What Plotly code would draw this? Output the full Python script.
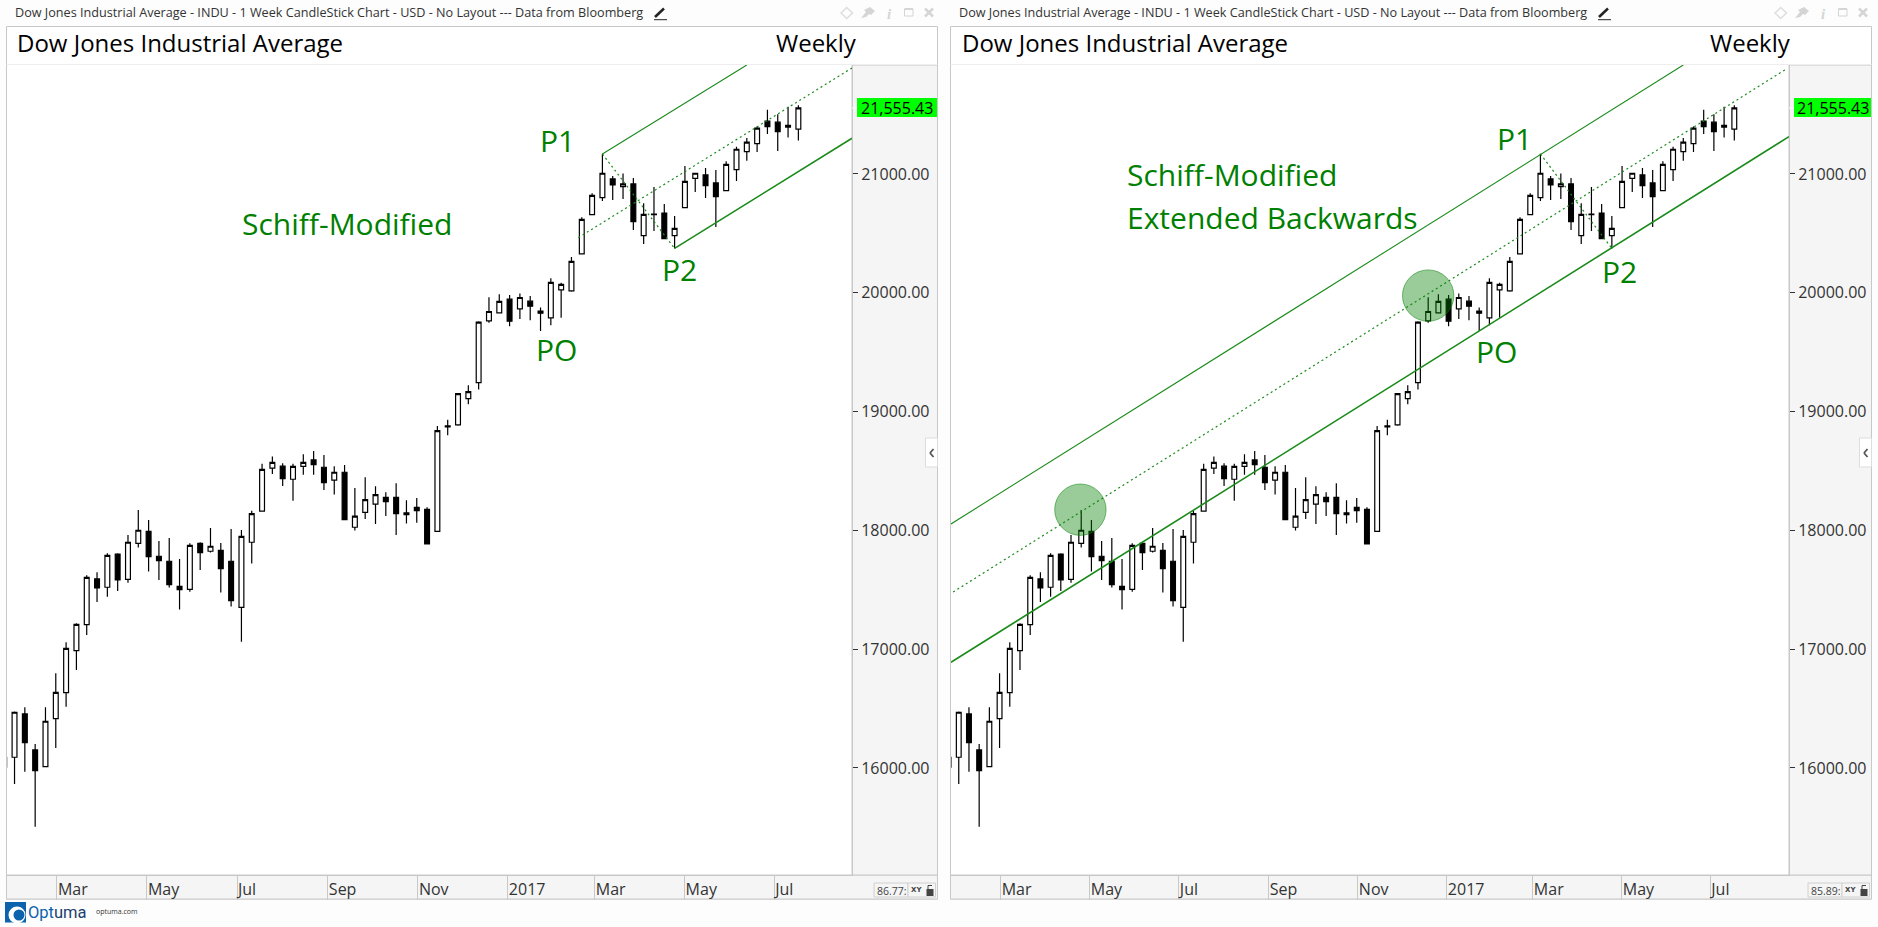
import plotly.graph_objects as go

WIDTH = 1878
HEIGHT = 927

# --- weekly bars ---
weeks = list(range(78))
opens = [16006, 16090, 16455, 16152, 16011, 16415, 16634, 16988, 17207, 17591,
         17521, 17801, 17588, 17891, 17992, 17782, 17740, 17529, 17504, 17891,
         17824, 17832, 17740, 17352, 17900, 18161, 18523, 18540, 18430, 18539,
         18593, 18531, 18422, 18489, 18026, 18152, 18220, 18278, 18278, 18147,
         18194, 18177, 17992, 18870, 18887, 19109, 19244, 19764, 19831, 19946,
         19865, 19929, 19845, 19789, 20025, 20016, 20328, 20657, 20800, 20958,
         20893, 20916, 20480, 20657, 20671, 20480, 20716, 20963, 20992, 20924,
         20860, 21037, 21188, 21256, 21444, 21436, 21393, 21377]
highs = [16100, 16475, 16511, 16202, 16511, 16797, 17058, 17218, 17622, 17647,
         17807, 17807, 17961, 18172, 18088, 17911, 17936, 17759, 17891, 17900,
         18020, 17894, 18012, 18003, 18166, 18560, 18621, 18565, 18560, 18640,
         18667, 18635, 18539, 18551, 18357, 18447, 18371, 18320, 18396, 18253,
         18273, 18194, 18879, 18932, 19156, 19221, 19761, 19963, 19988, 19980,
         19994, 19972, 19876, 20123, 20084, 20300, 20635, 20837, 21169, 20983,
         21003, 20966, 20753, 20890, 20747, 20646, 21067, 21006, 21051, 21034,
         21107, 21228, 21303, 21399, 21540, 21503, 21565, 21579]
lows = [16000, 15865, 15969, 15506, 16011, 16168, 16516, 16825, 17120, 17397,
        17442, 17490, 17560, 17855, 17653, 17583, 17518, 17333, 17484, 17667,
        17813, 17476, 17358, 17063, 17720, 18161, 18475, 18374, 18250, 18469,
        18469, 18340, 18301, 18090, 17998, 18096, 18054, 18121, 17961, 18057,
        18063, 17886, 17992, 18800, 18880, 19061, 19185, 19747, 19831, 19719,
        19778, 19769, 19679, 19727, 19789, 20008, 20328, 20657, 20772, 20781,
        20789, 20528, 20410, 20519, 20455, 20373, 20716, 20848, 20798, 20553,
        20860, 20941, 21110, 21185, 21337, 21194, 21306, 21281]
closes = [16090, 16469, 16213, 15978, 16393, 16637, 17007, 17209, 17605, 17515,
          17790, 17583, 17900, 18001, 17779, 17745, 17543, 17501, 17874, 17813,
          17866, 17678, 17409, 17950, 18141, 18514, 18573, 18436, 18539, 18573,
          18554, 18402, 18489, 18090, 18119, 18259, 18301, 18242, 18141, 18133,
          18166, 17886, 18840, 18880, 19151, 19168, 19752, 19842, 19927, 19761,
          19960, 19887, 19828, 20087, 20070, 20264, 20618, 20820, 21006, 20907,
          20916, 20598, 20660, 20663, 20455, 20542, 20938, 21006, 20902, 20809,
          21081, 21208, 21267, 21385, 21399, 21357, 21410, 21555.43]

# --- axes ---
price_ticks = [16000, 17000, 18000, 19000, 20000, 21000]
month_ticks = [5.11, 13.84, 22.57, 31.38, 40.11, 48.83, 57.26, 65.97, 74.65]
month_labels = ["Mar", "May", "Jul", "Sep", "Nov", "2017", "Mar", "May", "Jul"]

# --- pitchfork lines (week, price) ---
left_upper_w, left_upper_p = [58, 72], [21168, 21917]
left_median_w, left_median_p = [55.67, 82.2], [20464, 21892]
left_lower_w, left_lower_p = [65, 82.2], [20374, 21300]
handle_w, handle_p = [58, 65], [21168, 20373]
right_upper_w, right_upper_p = [0.24, 72], [18054, 21917]
right_median_w, right_median_p = [0.45, 82.2], [17481, 21889]
right_lower_w, right_lower_p = [0.24, 82.36], [16890, 21314]
circle_w, circle_p = [12.92, 47], [18174, 19976]

GREEN = "#008000"
LINE_GREEN = "#1a8a1a"
BORDER = "#c8c8c8"
STRIP = "#f5f5f5"
FONT = "Open Sans"
HEADER = "Dow Jones Industrial Average - INDU - 1 Week CandleStick Chart - USD - No Layout --- Data from Bloomberg"


def px_x(x):
    return x / WIDTH


def px_y(y):
    return 1 - y / HEIGHT


def rect(x0, y0, x1, y1, fill, line=None, layer="below"):
    fig.add_shape(type="rect", xref="paper", yref="paper", layer=layer,
                  x0=px_x(x0), x1=px_x(x1), y0=px_y(y0), y1=px_y(y1),
                  fillcolor=fill, line=dict(color=line or fill, width=1 if line else 0))


def seg(x0, y0, x1, y1, color, width=1):
    fig.add_shape(type="line", xref="paper", yref="paper", layer="above",
                  x0=px_x(x0), x1=px_x(x1), y0=px_y(y0), y1=px_y(y1),
                  line=dict(color=color, width=width))


def label(x, y, text, size, color, anchor="left", family=FONT):
    fig.add_annotation(xref="paper", yref="paper", x=px_x(x), y=px_y(y), text=text,
                       showarrow=False, xanchor=anchor, yanchor="middle", borderpad=0,
                       font=dict(family=family, size=size, color=color))


def poly(points, fill):
    d = "M" + " L".join(f"{px_x(x)},{px_y(y)}" for x, y in points) + " Z"
    fig.add_shape(type="path", xref="paper", yref="paper", layer="above", path=d,
                  fillcolor=fill, line=dict(color=fill, width=0))


def dot(cx, cy, r, fill):
    fig.add_shape(type="circle", xref="paper", yref="paper", layer="above",
                  x0=px_x(cx - r), x1=px_x(cx + r), y0=px_y(cy + r), y1=px_y(cy - r),
                  fillcolor=fill, line=dict(width=0))


def line_trace(w, p, xaxis, yaxis, width, dash="solid"):
    return go.Scatter(x=w, y=p, mode="lines", xaxis=xaxis, yaxis=yaxis, hoverinfo="skip",
                      showlegend=False, line=dict(color=LINE_GREEN, width=width, dash=dash))


fig = go.Figure()

# one entry per panel: frame and plot edges in pixels, and first/last week on the axis
panels = [
    dict(x="x", y="y", left=6.5, plot_right=852, right=937.5, range=[0.27, 82.2],
         tag_x=857, offset=0, title_x=16, weekly_x=857.5, readout="86.77:"),
    dict(x="x2", y="y2", left=950.5, plot_right=1789, right=1871.5, range=[0.24, 82.36],
         tag_x=1794, offset=944, title_x=961, weekly_x=1792, readout="85.89:"),
]

for p in panels:
    off = p["offset"]
    fig.add_trace(go.Candlestick(
        x=weeks, open=opens, high=highs, low=lows, close=closes,
        xaxis=p["x"], yaxis=p["y"], showlegend=False, hoverinfo="skip",
        increasing=dict(line=dict(color="black", width=1.2), fillcolor="white"),
        decreasing=dict(line=dict(color="black", width=1.2), fillcolor="black"),
    ))

    # panel chrome
    rect(p["left"], 26.5, p["right"], 899, "white", BORDER)
    rect(p["left"], 875, p["right"], 899, STRIP, BORDER)
    rect(p["plot_right"], 65, p["right"], 875, STRIP, BORDER)
    seg(p["left"], 64.5, p["right"], 64.5, "#eeeeee")
    label(14 + off, 12.5, HEADER, 12.65, "#333333")
    label(p["title_x"], 42, "Dow Jones Industrial Average", 24, "black")
    label(p["weekly_x"], 42, "Weekly", 24, "black", anchor="right")

    # price tag
    rect(p["tag_x"], 98, p["right"] - 0.5, 117, "#00ff00", layer="above")
    label((p["tag_x"] + p["right"]) / 2, 107.5, "21,555.43", 16, "black", anchor="center")
    seg(p["plot_right"], 108, p["plot_right"] + 5, 108, "white")

    # pencil and window icons
    ic = p["right"] - 937.5
    seg(655 + off, 17, 664 + off, 8.5, "#222222", 2.5)
    seg(654 + off, 19.7, 667 + off, 19.7, "#222222", 1)
    poly([(840 + ic, 13), (846.7 + ic, 6.5), (853.5 + ic, 13), (846.7 + ic, 19.5), (840 + ic, 13),
          (842 + ic, 13), (846.7 + ic, 17.5), (851.5 + ic, 13), (846.7 + ic, 8.5), (842 + ic, 13)], "#dddddd")
    poly([(861 + ic, 18), (866 + ic, 12), (864 + ic, 10), (870 + ic, 7), (875 + ic, 11), (871 + ic, 15),
          (869 + ic, 14), (866 + ic, 17)], "#d5d5d5")
    label(889 + ic, 14, "<i><b>i</b></i>", 15, "#d5d5d5", anchor="center", family="Liberation Serif")
    rect(904.5 + ic, 9, 913 + ic, 16, "rgba(0,0,0,0)", "#d5d5d5", layer="above")
    seg(904.5 + ic, 9, 913 + ic, 9, "#d5d5d5", 2)
    seg(925 + ic, 8.5, 933 + ic, 16.5, "#d5d5d5", 2.5)
    seg(933 + ic, 8.5, 925 + ic, 16.5, "#d5d5d5", 2.5)

    # side scroller button
    rect(p["right"] - 12, 438, p["right"], 467, "white", "#dddddd", layer="above")
    seg(p["right"] - 4, 449, p["right"] - 7.5, 453, "#555555", 1.8)
    seg(p["right"] - 7.5, 453, p["right"] - 4, 457, "#555555", 1.8)

    # zoom readout box
    rect(p["right"] - 63.5, 883, p["right"] - 29.5, 897, "#f5f5f5", "#d0d0d0", layer="above")
    rect(p["right"] - 29.5, 883, p["right"] - 2, 897, "#f5f5f5", "#d0d0d0", layer="above")
    label(p["right"] - 62, 890.5, p["readout"], 10.5, "#444444")
    label(p["right"] - 21.5, 890, "<b>XY</b>", 7, "#444444", anchor="center", family="DejaVu Sans")
    rect(p["right"] - 11, 889, p["right"] - 4, 896, "#444444", layer="above")
    seg(p["right"] - 9.5, 889, p["right"] - 9.5, 885.5, "#444444", 1)
    seg(p["right"] - 9.5, 885.5, p["right"] - 5.5, 885.5, "#444444", 1)

# pitchfork on the left chart
fig.add_trace(line_trace(left_upper_w, left_upper_p, "x", "y", 1.1))
fig.add_trace(line_trace(left_lower_w, left_lower_p, "x", "y", 1.6))
fig.add_trace(line_trace(left_median_w, left_median_p, "x", "y", 1.2, "2px,3px"))
fig.add_trace(line_trace(handle_w, handle_p, "x", "y", 1.2, "2px,3px"))

# pitchfork extended backwards on the right chart
fig.add_trace(line_trace(right_upper_w, right_upper_p, "x2", "y2", 1.1))
fig.add_trace(line_trace(right_lower_w, right_lower_p, "x2", "y2", 1.6))
fig.add_trace(line_trace(right_median_w, right_median_p, "x2", "y2", 1.2, "2px,3px"))
fig.add_trace(line_trace(handle_w, handle_p, "x2", "y2", 1.2, "2px,3px"))

for w, pr in zip(circle_w, circle_p):
    fig.add_shape(type="circle", xref="x2", yref="y2", xsizemode="pixel", ysizemode="pixel",
                  xanchor=w, yanchor=pr, x0=-25.7, x1=25.7, y0=-25.7, y1=25.7, layer="above",
                  fillcolor="rgba(0,128,0,0.4)", line=dict(color="rgba(0,128,0,0.5)", width=1))

# green notes
for x, y, text in [(241, 224, "Schiff-Modified"), (539, 141, "P1"), (661, 269.5, "P2"), (535, 349, "PO"),
                   (1126, 174, "Schiff-Modified"), (1126, 217, "Extended Backwards"),
                   (1496, 138, "P1"), (1601, 272, "P2"), (1475, 351.5, "PO")]:
    label(x, y, text, 30, GREEN)

# optuma mark
rect(5, 902, 26, 922.5, "#0b62ad", layer="above")
dot(17, 915, 8.5, "white")
dot(19, 915, 5.5, "#0b62ad")
label(27, 912.5, "<span style='color:#0b62ad'>Opt</span><span style='color:#1c3f6e'>uma</span>", 16.5,
      "#0b62ad", family="Roboto")
label(95, 911.5, "optuma.com", 7, "#333333")

axis_font = dict(family=FONT, size=16, color="#333333")
y_range = [15099, 21917]


def x_axis(p, anchor):
    return dict(domain=[px_x(p["left"] + 0.5), px_x(p["plot_right"])], range=p["range"], anchor=anchor,
                tickmode="array", tickvals=month_ticks, ticktext=month_labels, tickfont=axis_font,
                ticks="outside", ticklen=24, tickwidth=1, tickcolor=BORDER, showgrid=False, zeroline=False,
                ticklabelposition="outside right", rangeslider=dict(visible=False),
                showline=True, linecolor=BORDER)


def y_axis(anchor):
    return dict(domain=[px_y(875), px_y(65)], range=y_range, anchor=anchor, side="right",
                tickmode="array", tickvals=price_ticks, tickformat=".2f", tickfont=axis_font,
                ticks="outside", ticklen=5, tickwidth=1, tickcolor="#333333", showgrid=False, zeroline=False,
                showline=True, linecolor=BORDER)


fig.update_layout(
    width=WIDTH, height=HEIGHT, margin=dict(l=0, r=0, t=0, b=0),
    paper_bgcolor="#fdfdfd", plot_bgcolor="white", showlegend=False, boxgap=0.33,
    font=dict(family=FONT),
    xaxis=x_axis(panels[0], "y"), yaxis=y_axis("x"),
    xaxis2=x_axis(panels[1], "y2"), yaxis2=y_axis("x2"),
)

fig.write_html("out.html", config={"displayModeBar": False},
               post_script="document.body.style.margin='0';document.body.style.overflow='hidden';")
